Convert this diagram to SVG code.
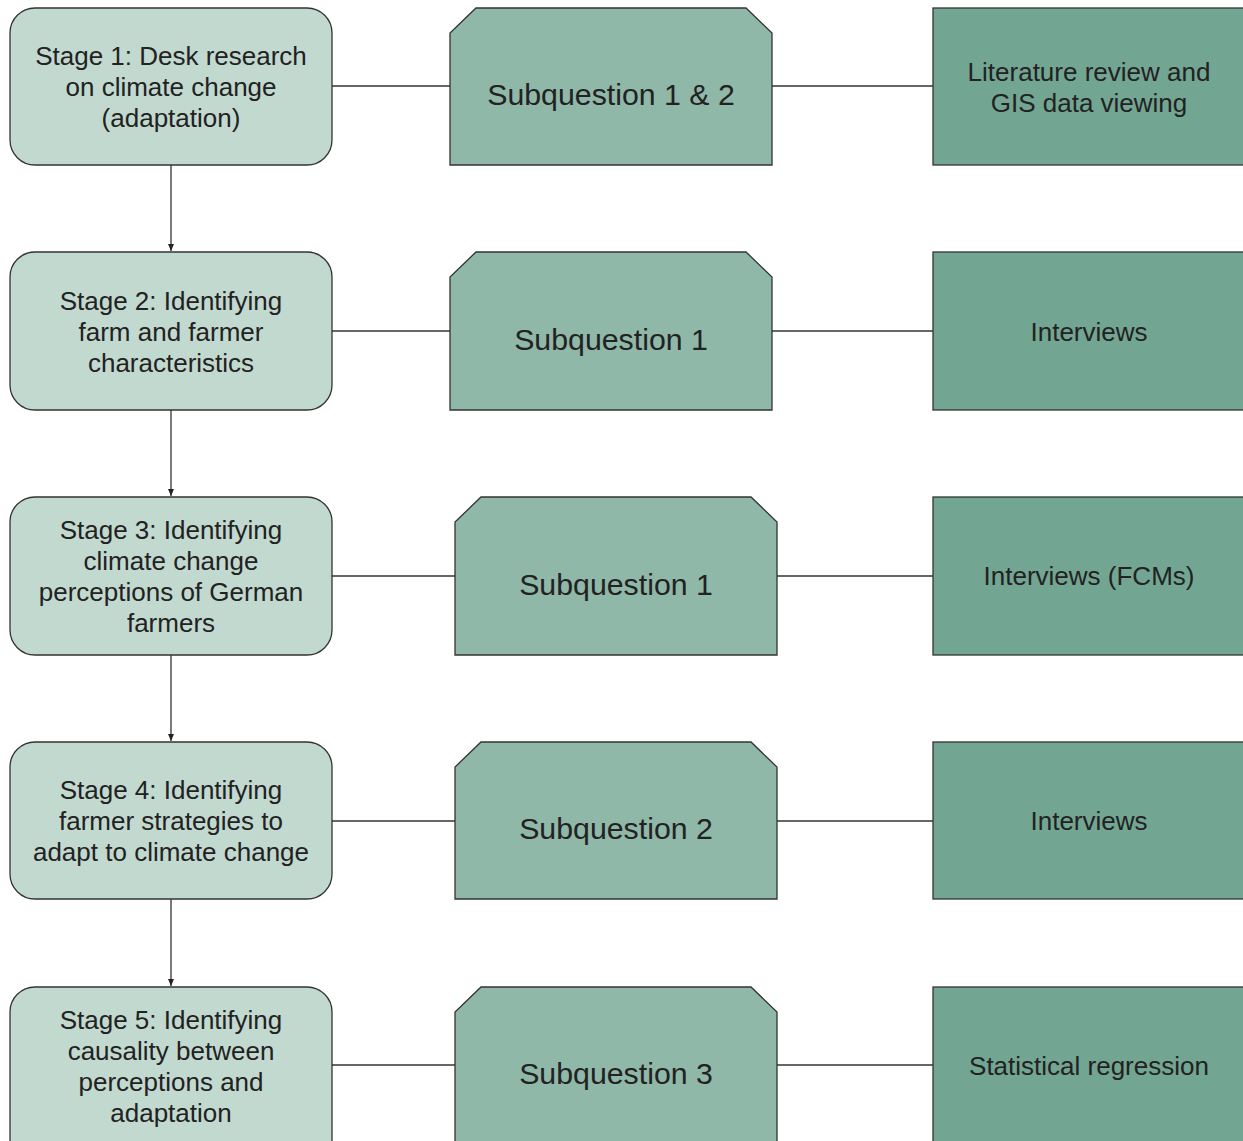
<svg xmlns="http://www.w3.org/2000/svg" width="1243" height="1141" viewBox="0 0 1243 1141">
<style>
.stage{fill:#c2d9d0;stroke:#333;stroke-width:1.3}
.sub{fill:#8fb8a9;stroke:#333;stroke-width:1.3}
.meth{fill:#72a692;stroke:#333;stroke-width:1.3}
text{font-family:"Liberation Sans",Arial,sans-serif;fill:#222;text-anchor:middle;dominant-baseline:central}
.t{font-size:26px}
.s{font-size:30.3px}
.m{font-size:26px}
.c{stroke:#333;stroke-width:1.3;fill:none}
</style>
<defs>
<marker id="ah" markerWidth="8" markerHeight="8" refX="7" refY="4" orient="auto" markerUnits="userSpaceOnUse">
<path d="M0,1 L7,4 L0,7 Z" fill="#222"/>
</marker>
</defs>
<rect width="1243" height="1141" fill="#fff"/>
<g id="connectors">
<line class="c" x1="171" y1="165" x2="171" y2="251" marker-end="url(#ah)"/>
<line class="c" x1="171" y1="410" x2="171" y2="496" marker-end="url(#ah)"/>
<line class="c" x1="171" y1="655" x2="171" y2="741" marker-end="url(#ah)"/>
<line class="c" x1="171" y1="899" x2="171" y2="986" marker-end="url(#ah)"/>
<line class="c" x1="332" y1="86" x2="450" y2="86"/>
<line class="c" x1="772" y1="86" x2="933" y2="86"/>
<line class="c" x1="332" y1="331" x2="450" y2="331"/>
<line class="c" x1="772" y1="331" x2="933" y2="331"/>
<line class="c" x1="332" y1="576" x2="455" y2="576"/>
<line class="c" x1="777" y1="576" x2="933" y2="576"/>
<line class="c" x1="332" y1="821" x2="455" y2="821"/>
<line class="c" x1="777" y1="821" x2="933" y2="821"/>
<line class="c" x1="332" y1="1065" x2="455" y2="1065"/>
<line class="c" x1="777" y1="1065" x2="933" y2="1065"/>
</g>
<g id="stage1"><rect class="stage" x="10" y="8" width="322" height="157" rx="25"/><text class="t" x="171" y="56">Stage 1: Desk research</text><text class="t" x="171" y="87">on climate change</text><text class="t" x="171" y="118">(adaptation)</text></g>
<g id="stage2"><rect class="stage" x="10" y="252" width="322" height="158" rx="25"/><text class="t" x="171" y="301">Stage 2: Identifying</text><text class="t" x="171" y="332">farm and farmer</text><text class="t" x="171" y="363">characteristics</text></g>
<g id="stage3"><rect class="stage" x="10" y="497" width="322" height="158" rx="25"/><text class="t" x="171" y="530">Stage 3: Identifying</text><text class="t" x="171" y="561">climate change</text><text class="t" x="171" y="592">perceptions of German</text><text class="t" x="171" y="623">farmers</text></g>
<g id="stage4"><rect class="stage" x="10" y="742" width="322" height="157" rx="25"/><text class="t" x="171" y="790">Stage 4: Identifying</text><text class="t" x="171" y="821">farmer strategies to</text><text class="t" x="171" y="852">adapt to climate change</text></g>
<g id="stage5"><rect class="stage" x="10" y="987" width="322" height="180" rx="25"/><text class="t" x="171" y="1020">Stage 5: Identifying</text><text class="t" x="171" y="1051">causality between</text><text class="t" x="171" y="1082">perceptions and</text><text class="t" x="171" y="1113">adaptation</text></g>
<g id="sub1"><path class="sub" d="M476,8 L746,8 L772,33 L772,165 L450,165 L450,33 Z"/><text class="s" x="611" y="94">Subquestion 1 &amp; 2</text></g>
<g id="sub2"><path class="sub" d="M476,252 L746,252 L772,277 L772,410 L450,410 L450,277 Z"/><text class="s" x="611" y="339">Subquestion 1</text></g>
<g id="sub3"><path class="sub" d="M481,497 L751,497 L777,522 L777,655 L455,655 L455,522 Z"/><text class="s" x="616" y="584">Subquestion 1</text></g>
<g id="sub4"><path class="sub" d="M481,742 L751,742 L777,767 L777,899 L455,899 L455,767 Z"/><text class="s" x="616" y="828">Subquestion 2</text></g>
<g id="sub5"><path class="sub" d="M481,987 L751,987 L777,1012 L777,1160 L455,1160 L455,1012 Z"/><text class="s" x="616" y="1073">Subquestion 3</text></g>
<g id="method1"><rect class="meth" x="933" y="8" width="330" height="157"/><text class="m" x="1089" y="72">Literature review and</text><text class="m" x="1089" y="103">GIS data viewing</text></g>
<g id="method2"><rect class="meth" x="933" y="252" width="330" height="158"/><text class="m" x="1089" y="332">Interviews</text></g>
<g id="method3"><rect class="meth" x="933" y="497" width="330" height="158"/><text class="m" x="1089" y="576">Interviews (FCMs)</text></g>
<g id="method4"><rect class="meth" x="933" y="742" width="330" height="157"/><text class="m" x="1089" y="821">Interviews</text></g>
<g id="method5"><rect class="meth" x="933" y="987" width="330" height="180"/><text class="m" x="1089" y="1066">Statistical regression</text></g>
</svg>
